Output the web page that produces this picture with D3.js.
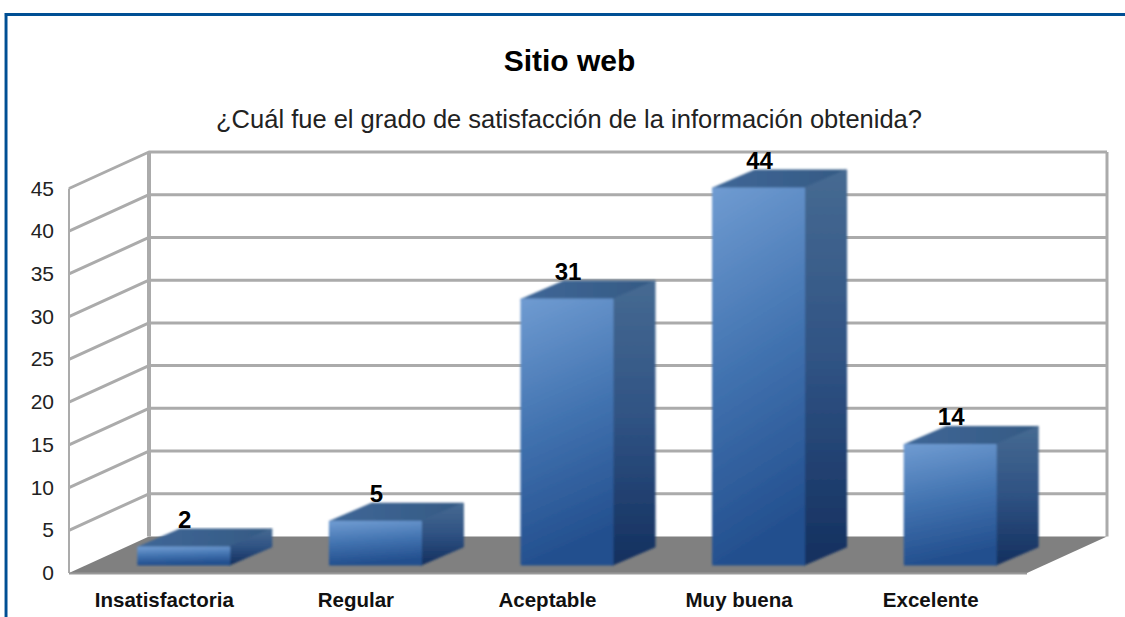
<!DOCTYPE html>
<html>
<head>
<meta charset="utf-8">
<script src="https://cdn.jsdelivr.net/npm/d3@7"></script>
<style>
html,body{margin:0;padding:0;background:#fff;}
svg{display:block;}
text{font-family:"Liberation Sans",Arial,sans-serif;fill:#000;}
</style>
</head>
<body>
<svg id="chart" width="1125" height="617"></svg>
<script>
const categories = ["Insatisfactoria","Regular","Aceptable","Muy buena","Excelente"];
const values = [2,5,31,44,14];
const yTicks = [0,5,10,15,20,25,30,35,40,45];
const chartTitle = "Sitio web";
const chartSubtitle = "¿Cuál fue el grado de satisfacción de la información obtenida?";

const W = 1125, H = 617;
const svg = d3.select("#chart");
const defs = svg.append("defs");

function grad(id, x2, y2, stops){
  const g = defs.append("linearGradient").attr("id",id)
    .attr("x1",0).attr("y1",0).attr("x2",x2).attr("y2",y2);
  stops.forEach(s=>g.append("stop").attr("offset",s[0]).attr("stop-color",s[1]));
}
grad("front",0.15,1,[[0,"#6f9bd1"],[0.5,"#4273b0"],[1,"#234f8e"]]);
grad("side",0,1,[[0,"#466a92"],[0.5,"#2f5283"],[1,"#14305f"]]);
grad("top",1,0,[[0,"#3f6797"],[1,"#355a84"]]);
defs.append("filter").attr("id","soft").attr("x","-5%").attr("y","-5%").attr("width","110%").attr("height","110%")
  .append("feGaussianBlur").attr("stdDeviation",0.8);

// scales
const x = d3.scaleBand().domain(categories).range([69,1027]);
const y = d3.scaleLinear().domain([0,45]).range([573,188.5]);
const wallDx = 80, wallDy = -36.5;   // depth of the box
const barDx = 19, barDy = -8.5;      // bar position inside the depth
const depthDx = 42, depthDy = -18;   // bar depth
const barW = 91;
const line = d3.line();

// frame
svg.append("path").attr("d",line([[6,H],[6,14.5],[W,14.5]]))
  .attr("fill","none").attr("stroke","#004f94").attr("stroke-width",3);
svg.append("line").attr("x1",4.5).attr("x2",4.5).attr("y1",16).attr("y2",H)
  .attr("stroke","#8fb0cc").attr("stroke-width",1);

// titles
svg.append("text").attr("x",569.5).attr("y",71).attr("text-anchor","middle")
  .attr("font-size",30).attr("font-weight","bold").text(chartTitle);
svg.append("text").attr("x",569).attr("y",128).attr("text-anchor","middle")
  .attr("font-size",25.5).attr("style","fill:#222").text(chartSubtitle);

// floor
svg.append("path").attr("d",line([
  [x.range()[0],y(0)],[x.range()[1],y(0)],
  [x.range()[1]+wallDx,y(0)+wallDy],[x.range()[0]+wallDx,y(0)+wallDy]
])+"Z").attr("fill","#808080");

// grid
const grid = svg.append("g").attr("fill","none").attr("stroke","#ababab");
yTicks.forEach(t=>{
  const yy = y(t);
  if(t>0) grid.append("path").attr("stroke-width",3).attr("stroke-linejoin","round")
    .attr("d",line([[x.range()[0],yy],[x.range()[0]+wallDx,yy+wallDy],[x.range()[1]+wallDx,yy+wallDy]]));
});
grid.append("line").attr("stroke-width",2).attr("x1",x.range()[0]).attr("x2",x.range()[0]).attr("y1",y(45)).attr("y2",y(0));
grid.append("line").attr("stroke-width",2).attr("x1",x.range()[0]).attr("x2",x.range()[1]).attr("y1",y(0)+0.5).attr("y2",y(0)+0.5).attr("stroke","#999");
grid.append("line").attr("stroke-width",4).attr("x1",x.range()[0]+wallDx).attr("x2",x.range()[0]+wallDx).attr("y1",y(45)+wallDy).attr("y2",y(0)+wallDy);
grid.append("line").attr("stroke-width",3).attr("x1",x.range()[1]+wallDx).attr("x2",x.range()[1]+wallDx).attr("y1",y(45)+wallDy).attr("y2",y(0)+wallDy);

// y tick labels
svg.append("g").selectAll("text").data(yTicks).join("text")
  .attr("x",54).attr("y",d=>y(d)+7).attr("text-anchor","end")
  .attr("font-size",21).attr("style","fill:#222").text(d=>d);

// bars
const bars = svg.append("g").selectAll("g").data(categories.map((c,i)=>({c,v:values[i]}))).join("g")
  .attr("filter","url(#soft)");
function bounds(d){
  const cx = x(d.c)+x.bandwidth()/2+barDx;
  const l = cx-barW/2, r = cx+barW/2;
  const b = y(0)+barDy, t = y(d.v)+barDy;
  return {l,r,b,t};
}
function face(sel, id, pts){
  sel.append("path").attr("d",d=>line(pts(bounds(d)))+"Z")
    .attr("fill",`url(#${id})`).attr("stroke",`url(#${id})`)
    .attr("stroke-width",2).attr("stroke-linejoin","round");
}
face(bars,"top",k=>[[k.l,k.t],[k.r,k.t],[k.r+depthDx,k.t+depthDy],[k.l+depthDx,k.t+depthDy]]);
face(bars,"side",k=>[[k.r,k.t],[k.r+depthDx,k.t+depthDy],[k.r+depthDx,k.b+depthDy],[k.r,k.b]]);
face(bars,"front",k=>[[k.l,k.t],[k.r,k.t],[k.r,k.b],[k.l,k.b]]);

// value labels
svg.append("g").selectAll("text").data(categories.map((c,i)=>({c,v:values[i]}))).join("text")
  .attr("x",d=>x(d.c)+x.bandwidth()/2+barDx+1)
  .attr("y",d=>y(d.v)+barDy+depthDy-1.5)
  .attr("text-anchor","middle").attr("font-size",24).attr("font-weight","bold")
  .text(d=>d.v);

// category labels
svg.append("g").selectAll("text").data(categories).join("text")
  .attr("x",d=>x(d)+x.bandwidth()/2-0.5).attr("y",607).attr("text-anchor","middle")
  .attr("font-size",20.5).attr("font-weight","bold").attr("style","fill:#111").text(d=>d);
</script>
</body>
</html>
